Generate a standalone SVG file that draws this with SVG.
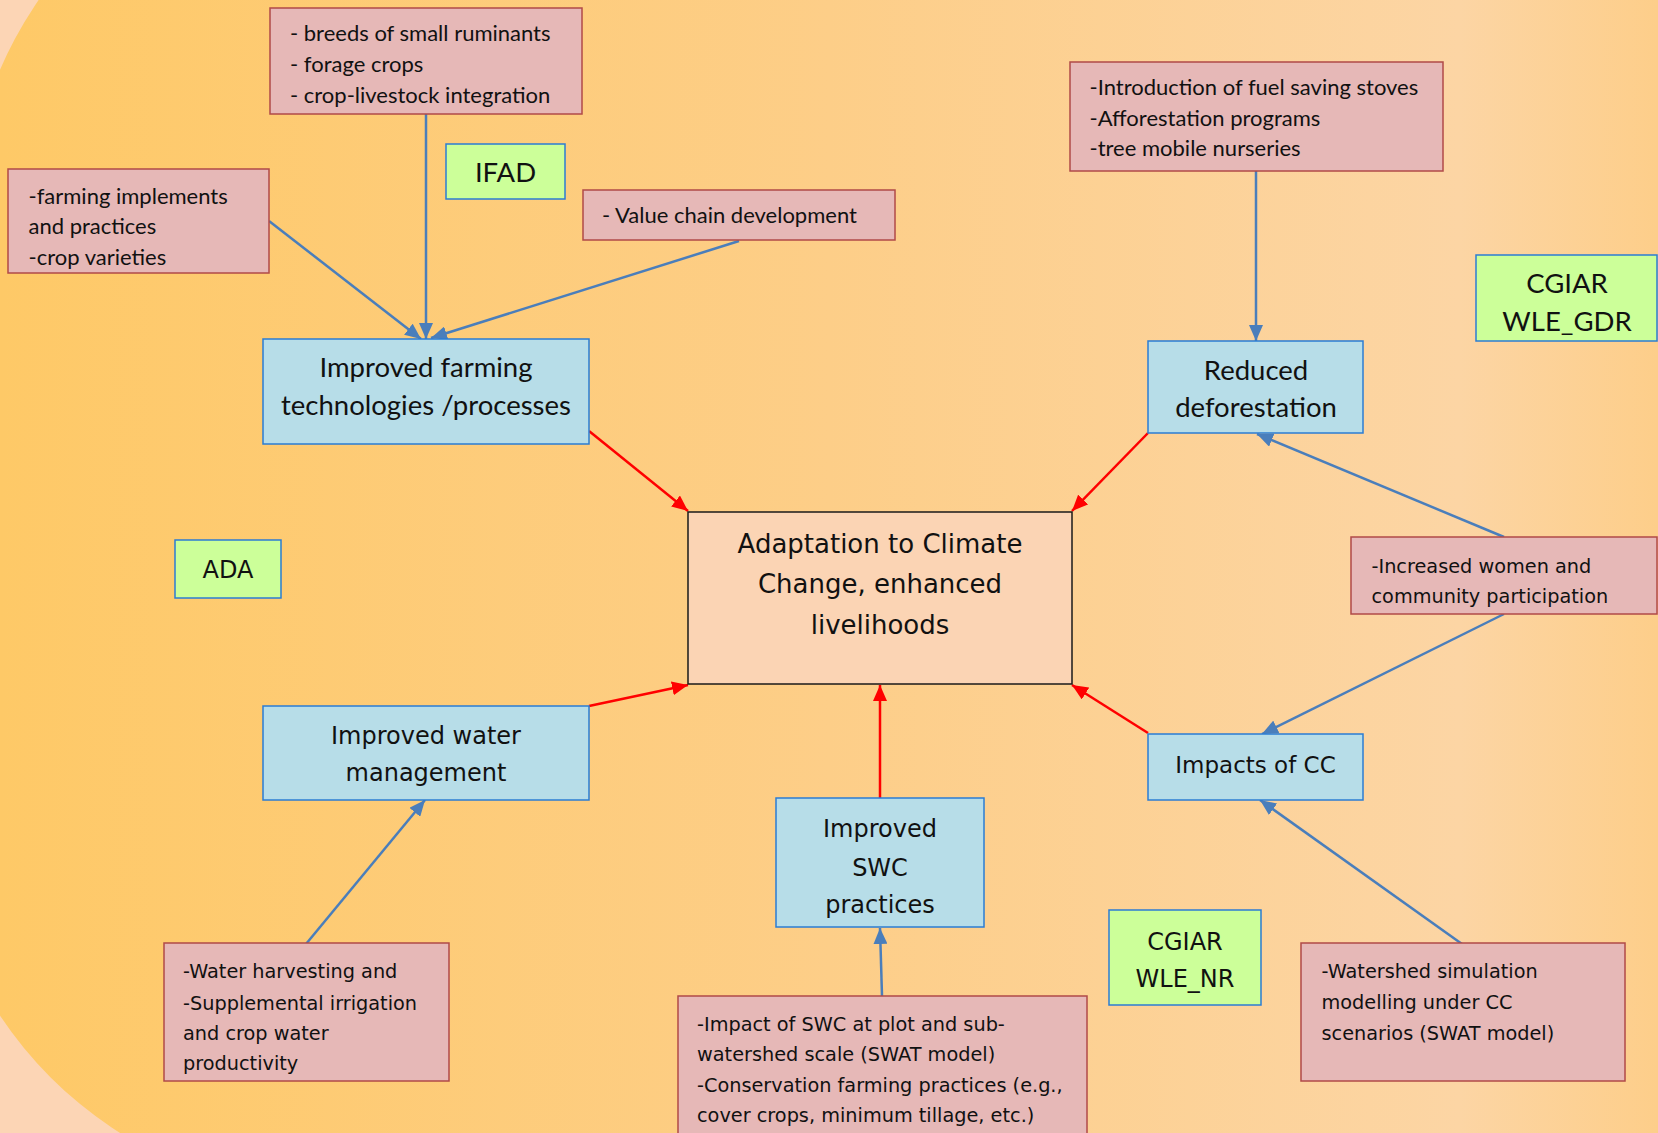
<svg xmlns="http://www.w3.org/2000/svg" width="1658" height="1133" viewBox="0 0 1658 1133">
<defs>
<linearGradient id="bg" gradientUnits="userSpaceOnUse" x1="0" y1="0" x2="1658" y2="0">
<stop offset="0" stop-color="#FEC967"/>
<stop offset="0.5" stop-color="#FDCE88"/>
<stop offset="0.88" stop-color="#FCD5A4"/>
<stop offset="1" stop-color="#FDCE8A"/>
</linearGradient>
<marker id="ab" viewBox="0 0 16 14" refX="16" refY="7" markerWidth="16" markerHeight="14" markerUnits="userSpaceOnUse" orient="auto">
<path d="M0,0 L16,7 L0,14 Z" fill="#4A7EBB"/>
</marker>
<marker id="ar" viewBox="0 0 16 14" refX="16" refY="7" markerWidth="16" markerHeight="14" markerUnits="userSpaceOnUse" orient="auto">
<path d="M0,0 L16,7 L0,14 Z" fill="#FF0000"/>
</marker>
</defs>
<style>
.pink{fill:#E6B8B7;stroke:#B04A48;stroke-width:1.5}
.blue{fill:#B7DDE8;stroke:#2B7CD3;stroke-width:1.5}
.green{fill:#CCFF99;stroke:#2B7CD3;stroke-width:1.5}
.center{fill:#FBD4B4;stroke:#1A1A1A;stroke-width:1.5}
.cal{font-family:Lato,"Open Sans",sans-serif;fill:#111}
.ver{font-family:"DejaVu Sans",Verdana,sans-serif;fill:#111}
.s{font-size:22px}
.l{font-size:27.5px}
.vs{font-size:19.3px}
.vl{font-size:24px}
.mid{text-anchor:middle}
.cb{fill:none;stroke:#4A7EBB;stroke-width:2.5;marker-end:url(#ab)}
.cr{fill:none;stroke:#FF0000;stroke-width:2.5;marker-end:url(#ar)}
</style>
<rect x="0" y="0" width="1658" height="1133" fill="#FCD5B5"/>
<path d="M372,-175 A405,405 0 0 0 -33,230 L-68,791 A405,405 0 0 0 337,1196 L1800,1196 L1800,-175 Z" fill="url(#bg)"/>

<g id="connectors">
<line class="cb" x1="426" y1="114" x2="426" y2="339"/>
<line class="cb" x1="269" y1="221" x2="421" y2="339"/>
<line class="cb" x1="739" y1="241" x2="431" y2="338"/>
<line class="cb" x1="1256" y1="171" x2="1256" y2="341"/>
<line class="cb" x1="1504" y1="537" x2="1257" y2="434"/>
<line class="cb" x1="1504" y1="614" x2="1262" y2="734"/>
<line class="cb" x1="1462" y1="944" x2="1260" y2="800"/>
<line class="cb" x1="882" y1="996" x2="880" y2="928"/>
<line class="cb" x1="306" y1="944" x2="425" y2="800"/>
<line class="cr" x1="589" y1="431" x2="688" y2="511"/>
<line class="cr" x1="1148" y1="433" x2="1072" y2="511"/>
<line class="cr" x1="589" y1="706" x2="688" y2="685"/>
<line class="cr" x1="1148" y1="733" x2="1072" y2="685"/>
<line class="cr" x1="880" y1="798" x2="880" y2="685"/>
</g>

<g id="breeds">
<rect class="pink" x="270" y="8" width="312" height="106"/>
<text class="cal s" x="290" y="40.5">- breeds of small ruminants</text>
<text class="cal s" x="290" y="71.5">- forage crops</text>
<text class="cal s" x="290" y="102.5">- crop-livestock integration</text>
</g>
<g id="ifad">
<rect class="green" x="446" y="144" width="119" height="55"/>
<text class="cal l mid" x="505.5" y="181.5">IFAD</text>
</g>
<g id="implements">
<rect class="pink" x="8" y="169" width="261" height="104"/>
<text class="cal s" x="28.5" y="203.5">-farming implements</text>
<text class="cal s" x="28.5" y="234">and practices</text>
<text class="cal s" x="28.5" y="264.5">-crop varieties</text>
</g>
<g id="valuechain">
<rect class="pink" x="583" y="190" width="312" height="50"/>
<text class="cal s" x="602" y="222.5">- Value chain development</text>
</g>
<g id="farming">
<rect class="blue" x="263" y="339" width="326" height="105"/>
<text class="cal l mid" x="426" y="376.5">Improved farming</text>
<text class="cal l mid" x="426" y="414.5">technologies /processes</text>
</g>
<g id="intro">
<rect class="pink" x="1070" y="62" width="373" height="109"/>
<text class="cal s" x="1089.5" y="95">-Introduction of fuel saving stoves</text>
<text class="cal s" x="1089.5" y="125.5">-Afforestation programs</text>
<text class="cal s" x="1089.5" y="156">-tree mobile nurseries</text>
</g>
<g id="reduced">
<rect class="blue" x="1148" y="341" width="215" height="92"/>
<text class="cal l mid" x="1256" y="379.5">Reduced</text>
<text class="cal l mid" x="1256" y="416.5">deforestation</text>
</g>
<g id="cgiar-gdr">
<rect class="green" x="1476" y="255" width="181" height="86"/>
<text class="cal l mid" x="1567" y="292.5">CGIAR</text>
<text class="cal l mid" x="1567" y="330.5">WLE_GDR</text>
</g>
<g id="ada">
<rect class="green" x="175" y="540" width="106" height="58"/>
<text class="ver vl mid" x="228" y="578">ADA</text>
</g>
<g id="adaptation">
<rect class="center" x="688" y="512" width="384" height="172"/>
<text class="ver mid" style="font-size:26px" x="880" y="552.5">Adaptation to Climate</text>
<text class="ver mid" style="font-size:26px" x="880" y="593">Change, enhanced</text>
<text class="ver mid" style="font-size:26px" x="880" y="634">livelihoods</text>
</g>
<g id="increased">
<rect class="pink" x="1351" y="537" width="306" height="77"/>
<text class="ver vs" x="1371.5" y="572.5">-Increased women and</text>
<text class="ver vs" x="1371.5" y="603">community participation</text>
</g>
<g id="water">
<rect class="blue" x="263" y="706" width="326" height="94"/>
<text class="ver vl mid" x="426" y="744">Improved water</text>
<text class="ver vl mid" x="426" y="781">management</text>
</g>
<g id="impacts">
<rect class="blue" x="1148" y="734" width="215" height="66"/>
<text class="ver mid" style="font-size:23px" x="1255.5" y="772.5">Impacts of CC</text>
</g>
<g id="swc">
<rect class="blue" x="776" y="798" width="208" height="129"/>
<text class="ver vl mid" x="880" y="837">Improved</text>
<text class="ver vl mid" x="880" y="875.5">SWC</text>
<text class="ver vl mid" x="880" y="913">practices</text>
</g>
<g id="cgiar-nr">
<rect class="green" x="1109" y="910" width="152" height="95"/>
<text class="ver vl mid" x="1185" y="949.5">CGIAR</text>
<text class="ver vl mid" x="1185" y="986.5">WLE_NR</text>
</g>
<g id="harvesting">
<rect class="pink" x="164" y="943" width="285" height="138"/>
<text class="ver vs" x="183" y="978">-Water harvesting and</text>
<text class="ver vs" x="183" y="1009.5">-Supplemental irrigation</text>
<text class="ver vs" x="183" y="1039.5">and crop water</text>
<text class="ver vs" x="183" y="1069.5">productivity</text>
</g>
<g id="swc-impact">
<rect class="pink" x="678" y="996" width="409" height="150"/>
<text class="ver vs" x="697" y="1031">-Impact of SWC at plot and sub-</text>
<text class="ver vs" x="697" y="1061">watershed scale (SWAT model)</text>
<text class="ver vs" x="697" y="1092">-Conservation farming practices (e.g.,</text>
<text class="ver vs" x="697" y="1122">cover crops, minimum tillage, etc.)</text>
</g>
<g id="watershed">
<rect class="pink" x="1301" y="943" width="324" height="138"/>
<text class="ver vs" x="1321.5" y="978">-Watershed simulation</text>
<text class="ver vs" x="1321.5" y="1008.5">modelling under CC</text>
<text class="ver vs" x="1321.5" y="1039.5">scenarios (SWAT model)</text>
</g>
</svg>
